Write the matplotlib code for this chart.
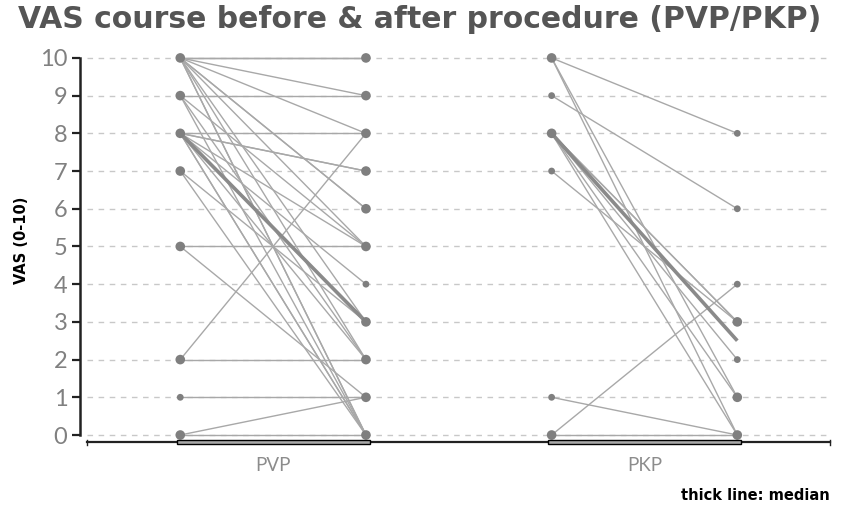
import matplotlib.pyplot as plt
import matplotlib.patches as mpatches
import numpy as np
from collections import Counter

# VAS values per patient, before -> after
pvp_pre = [10, 10, 10, 10, 10, 10, 10, 10, 10, 10, 10, 9, 9, 9, 9, 8, 8, 8, 8, 8, 8, 8, 8, 7, 7, 5, 5, 2, 2, 1, 0, 0]
pvp_post = [10, 10, 9, 8, 6, 6, 5, 3, 2, 0, 0, 9, 5, 2, 0, 8, 7, 7, 5, 4, 2, 0, 0, 3, 0, 5, 1, 8, 2, 1, 0, 1]
pkp_pre = [10, 10, 10, 9, 8, 8, 8, 8, 8, 7, 1, 0, 0]
pkp_post = [8, 1, 0, 6, 3, 3, 2, 1, 0, 3, 0, 4, 0]
medians = {'PVP': (8, 3), 'PKP': (8, 2.5)}
groups = ['PVP', 'PKP']

W, H = 850, 507
fig = plt.figure(figsize=(W / 100, H / 100), dpi=100)
ax = fig.add_axes([80 / W, 1 - 445 / H, (832 - 80) / W, (445 - 50) / H])
ax.set_xlim(-0.54, 3.51)
ax.set_ylim(-0.265, 10.21)

line_c = '#a8a8a8'
dot_c = '#7f7f7f'

# dashed grid
for v in range(11):
    ax.plot([-0.5, 3.5], [v, v], ls=(0, (4, 4)), color='#c8c8c8', lw=1, zorder=0)

data = {'PVP': (pvp_pre, pvp_post), 'PKP': (pkp_pre, pkp_post)}
for gi, g in enumerate(groups):
    x0, x1 = 2 * gi, 2 * gi + 1
    pre, post = data[g]
    for a, b in zip(pre, post):
        ax.plot([x0, x1], [a, b], color=line_c, lw=1, zorder=2)
    m0, m1 = medians[g]
    ax.plot([x0, x1], [m0, m1], color='#8a8a8a', lw=2.6, zorder=3, solid_capstyle='butt')
    for xx, vals in ((x0, pre), (x1, post)):
        cnt = Counter(vals)
        ys = list(cnt.keys())
        sz = [48 if cnt[y] > 1 else 24 for y in ys]
        ax.scatter([xx] * len(ys), ys, s=sz, color=dot_c, zorder=4, linewidths=0)
    # group bar below axis
    ax.add_patch(mpatches.Rectangle((x0 - 0.02, -0.235), 1.04, 0.09, facecolor='#a8a8a8',
                                    edgecolor='black', lw=1, zorder=5, clip_on=False))
    ax.text(x0 + 0.5, -0.8, g, ha='center', va='center', fontsize=13.5, color='#8c8c8c',
            family='Lato')

# bottom base line with end caps
ax.plot([-0.5, 3.5], [-0.19, -0.19], color='#222222', lw=1.6, zorder=4, clip_on=False)
for xe in (-0.5, 3.5):
    ax.plot([xe, xe], [-0.26, -0.12], color='#222222', lw=1, clip_on=False)

for s in ('top', 'right', 'bottom'):
    ax.spines[s].set_visible(False)
ax.spines['left'].set_bounds(0, 10)
ax.spines['left'].set_linewidth(1.8)
ax.spines['left'].set_color('#222222')
ax.set_xticks([])
ax.set_yticks(range(11))
ax.tick_params(axis='y', length=6, width=1.6, color='#222222', pad=3)
for lab in ax.get_yticklabels():
    lab.set_fontsize(17)
    lab.set_color('#808080')
    lab.set_family('Lato')

fig.text(22 / W, 1 - 240 / H, 'VAS (0-10)', rotation=90, ha='center', va='center',
         fontsize=10.5, fontweight='bold', color='black')
fig.text(18 / W, 1 - 20 / H, 'VAS course before & after procedure (PVP/PKP)', ha='left',
         va='center', fontsize=21.5, fontweight='bold', color='#555555')
fig.text(830 / W, 1 - 496 / H, 'thick line: median', ha='right', va='center',
         fontsize=10.5, fontweight='bold', color='black')

fig.savefig('out.png', dpi=100)
